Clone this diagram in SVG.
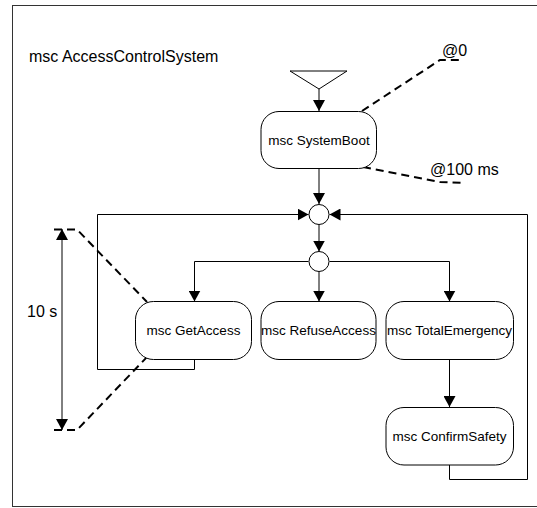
<svg xmlns="http://www.w3.org/2000/svg" width="537" height="508" viewBox="0 0 537 508">
<style>
.frame{fill:none;stroke:#333;stroke-width:1}
.box{fill:#fff;stroke:#000;stroke-width:1}
.conn{fill:none;stroke:#000;stroke-width:1}
.dash{fill:none;stroke:#000;stroke-width:2;stroke-dasharray:8,5}
.lbl{font-family:"Liberation Sans",Arial,sans-serif;font-size:13.5px;fill:#000;text-anchor:middle}
.big{font-family:"Liberation Sans",Arial,sans-serif;font-size:16px;fill:#000}
</style>
<defs>
<marker id="arr" markerUnits="userSpaceOnUse" markerWidth="11" markerHeight="12" refX="11" refY="6" orient="auto-start-reverse" viewBox="0 0 11 12">
<path d="M0,0 L11,6 L0,12 z" fill="#000"/>
</marker>
</defs>
<rect class="frame" x="12.5" y="5.5" width="540" height="501"/>
<text class="big" x="29" y="62">msc AccessControlSystem</text>

<g id="connectors">
<line class="conn" x1="319" y1="89" x2="319" y2="111" marker-end="url(#arr)"/>
<line class="conn" x1="319" y1="168" x2="319" y2="204" marker-end="url(#arr)"/>
<line class="conn" x1="319" y1="224.5" x2="319" y2="251.5" marker-end="url(#arr)"/>
<polyline class="conn" points="308.5,261.5 194.5,261.5 194.5,301.5" marker-end="url(#arr)"/>
<line class="conn" x1="319" y1="271.5" x2="319" y2="301.5" marker-end="url(#arr)"/>
<polyline class="conn" points="329.5,261.5 449.5,261.5 449.5,301.5" marker-end="url(#arr)"/>
<line class="conn" x1="449.5" y1="359.5" x2="449.5" y2="407" marker-end="url(#arr)"/>
<polyline class="conn" points="194.5,359.5 194.5,369.5 97.5,369.5 97.5,214.5 308.5,214.5" marker-end="url(#arr)"/>
<polyline class="conn" points="449.5,465 449.5,479.5 527.5,479.5 527.5,214.5 329.5,214.5" marker-end="url(#arr)"/>
<line class="conn" x1="62" y1="229" x2="62" y2="430" stroke-width="1.5" marker-start="url(#arr)" marker-end="url(#arr)"/>
<polyline class="dash" points="362,111 440,60 461,60"/>
<polyline class="dash" points="363,167 440,182 464,183"/>
<polyline class="dash" points="54,229.5 77,229.5 147,302"/>
<polyline class="dash" points="54,430 77,430 148,356"/>
</g>

<g id="start">
<polygon class="box" points="290,71 347,71 319,89"/>
</g>
<g id="SystemBoot">
<rect class="box" x="261" y="111.5" width="115.5" height="57" rx="18"/>
<text class="lbl" x="319" y="144.5">msc SystemBoot</text>
</g>
<g id="merge">
<circle class="box" cx="319" cy="214.5" r="10"/>
</g>
<g id="split">
<circle class="box" cx="319" cy="261.5" r="10"/>
</g>
<g id="GetAccess">
<rect class="box" x="135.5" y="301.5" width="116" height="58" rx="18"/>
<text class="lbl" x="193.5" y="335">msc GetAccess</text>
</g>
<g id="RefuseAccess">
<rect class="box" x="261" y="301.5" width="115" height="58" rx="18"/>
<text class="lbl" x="318.5" y="335">msc RefuseAccess</text>
</g>
<g id="TotalEmergency">
<rect class="box" x="386" y="301.5" width="127.5" height="58" rx="18"/>
<text class="lbl" x="449.5" y="335">msc TotalEmergency</text>
</g>
<g id="ConfirmSafety">
<rect class="box" x="386" y="407.5" width="127.5" height="57.5" rx="18"/>
<text class="lbl" x="449.5" y="441">msc ConfirmSafety</text>
</g>
<g id="labels">
<text class="big" x="442" y="56" font-size="15.5">@0</text>
<text class="big" x="430" y="175" font-size="15.5">@100 ms</text>
<text class="big" x="27" y="317" font-size="17">10 s</text>
</g>
</svg>
